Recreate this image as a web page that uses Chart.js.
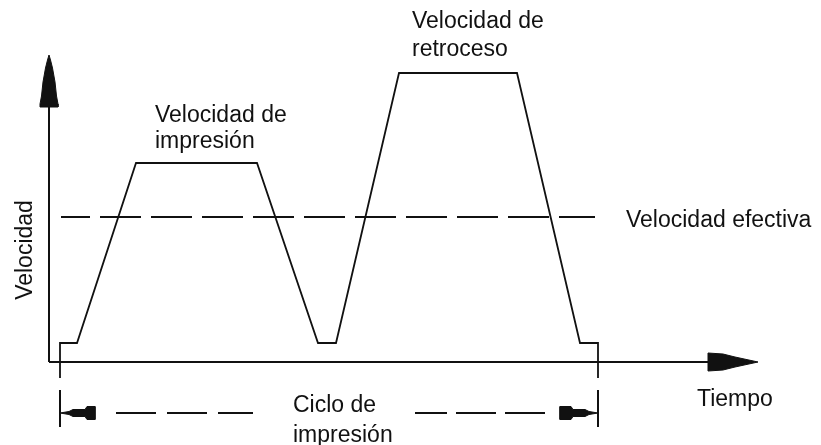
<!DOCTYPE html>
<html lang="es">
<head>
<meta charset="utf-8">
<title>Ciclo de impresión</title>
<script src="https://cdn.jsdelivr.net/npm/chart.js@4.4.1/dist/chart.umd.min.js"></script>
<style>
  html, body { margin: 0; padding: 0; background: #fff; }
  #wrap { width: 821px; height: 445px; }
</style>
</head>
<body>
<div id="wrap"><canvas id="cycleChart" width="821" height="445"></canvas></div>
<script>
// Perfil de velocidad durante un ciclo (tiempo, velocidad)
const profileTime = [1.1, 1.1, 2.8, 8.7, 20.8, 26.9, 28.7, 35.0, 46.8, 53.1, 54.9, 54.9];
const profileSpeed = [-1.6, 1.9, 1.9, 19.9, 19.9, 1.9, 1.9, 28.9, 28.9, 1.9, 1.9, -1.6];

// Velocidad efectiva (linea discontinua)
const effectiveTime = [1.2, 54.6];
const effectiveSpeed = [14.5, 14.5];

// Ejes
const axisYTime = [0, 0];
const axisYSpeed = [0, 25.5];
const axisXTime = [0, 65.9];
const axisXSpeed = [0, 0];

// Puntas de flecha de los ejes
const arrowYTime = [0, 0.15, 0.35, 0.6, 0.75, 0.9, 0.9, -0.9, -0.9, -0.75, -0.6, -0.35, -0.15, 0];
const arrowYSpeed = [30.7, 30.2, 29.4, 28.0, 26.6, 25.8, 25.5, 25.5, 25.8, 26.6, 28.0, 29.4, 30.2, 30.7];
const arrowXTime = [65.9, 67.4, 68.6, 70.9, 68.6, 67.4, 65.9, 65.9];
const arrowXSpeed = [0.9, 0.8, 0.5, 0, -0.5, -0.8, -0.9, 0.9];

// Cota del ciclo de impresion
const cycleStart = 1.1;
const cycleEnd = 54.9;
const cycleLevel = -5.1;
const extensionSpeed = [-2.8, -6.5];
const cycleDashLeftTime = [6.7, 20.4];
const cycleDashRightTime = [36.6, 49.6];
const cycleArrowLeftTime = [1.1, 2.0, 2.4, 3.6, 3.8, 4.6, 4.6, 3.8, 3.6, 2.4, 2.0, 1.1];
const cycleArrowRightTime = [54.9, 54.0, 53.6, 52.4, 52.2, 51.1, 51.1, 52.2, 52.4, 53.6, 54.0, 54.9];
const cycleArrowOffset = [0, 0.15, 0.35, 0.35, 0.65, 0.65, -0.65, -0.65, -0.35, -0.35, -0.15, 0];

// Textos
const labels = [
  { lines: ['Velocidad de', 'impresión'], t: 10.6, v: [24.0, 21.4] },
  { lines: ['Velocidad de', 'retroceso'], t: 36.3, v: [33.4, 30.6] },
  { lines: ['Velocidad efectiva'], t: 57.7, v: [13.5] },
  { lines: ['Tiempo'], t: 64.8, v: [-4.4] },
  { lines: ['Ciclo de', 'impresión'], t: 24.4, v: [-5.0, -8.0] }
];
const axisTitle = { text: 'Velocidad', t: -1.7, v: 11.2 };

const INK = '#111';
const FONT = '23px "Liberation Sans", Arial, sans-serif';

function pts(xs, ys) {
  return xs.map((x, i) => ({ x: x, y: ys[i] }));
}

function line(data, extra) {
  return Object.assign({
    data: data,
    borderColor: INK,
    backgroundColor: INK,
    borderWidth: 2,
    pointRadius: 0,
    showLine: true,
    fill: false,
    tension: 0
  }, extra || {});
}

// Textos dibujados con las escalas del grafico
const textPlugin = {
  id: 'textPlugin',
  afterDatasetsDraw(chart) {
    const ctx = chart.ctx;
    const sx = chart.scales.x;
    const sy = chart.scales.y;
    ctx.save();
    ctx.fillStyle = INK;
    ctx.font = FONT;
    ctx.textAlign = 'left';
    ctx.textBaseline = 'alphabetic';
    labels.forEach(l => {
      l.lines.forEach((s, i) => {
        ctx.fillText(s, sx.getPixelForValue(l.t), sy.getPixelForValue(l.v[i]));
      });
    });
    // titulo vertical del eje Y
    ctx.translate(sx.getPixelForValue(axisTitle.t), sy.getPixelForValue(axisTitle.v));
    ctx.rotate(-Math.PI / 2);
    ctx.textAlign = 'center';
    ctx.fillText(axisTitle.text, 0, 0);
    ctx.restore();
  }
};

const flat = (n, v) => Array(n).fill(v);

const ctx = document.getElementById('cycleChart').getContext('2d');
new Chart(ctx, {
  type: 'scatter',
  data: {
    datasets: [
      line(pts(axisYTime, axisYSpeed)),
      line(pts(axisXTime, axisXSpeed)),
      line(pts(arrowYTime, arrowYSpeed), { borderWidth: 1, fill: 'shape' }),
      line(pts(arrowXTime, arrowXSpeed), { borderWidth: 1, fill: 'shape' }),
      line(pts(profileTime, profileSpeed), { borderWidth: 1.8 }),
      line(pts(effectiveTime, effectiveSpeed), { borderDash: [41, 10], borderDashOffset: 12 }),
      line(pts([cycleStart, cycleStart], extensionSpeed)),
      line(pts([cycleEnd, cycleEnd], extensionSpeed)),
      line(pts(cycleDashLeftTime, flat(2, cycleLevel)), { borderDash: [40, 11] }),
      line(pts(cycleDashRightTime, flat(2, cycleLevel)), { borderDash: [40, 9], borderDashOffset: 8 }),
      line(pts(cycleArrowLeftTime, cycleArrowOffset.map(d => cycleLevel + d)), { borderWidth: 1, fill: 'shape' }),
      line(pts(cycleArrowRightTime, cycleArrowOffset.map(d => cycleLevel + d)), { borderWidth: 1, fill: 'shape' })
    ]
  },
  options: {
    responsive: false,
    animation: false,
    layout: { padding: 0 },
    plugins: {
      legend: { display: false },
      tooltip: { enabled: false }
    },
    scales: {
      x: { type: 'linear', min: -4.9, max: 77.2, display: false },
      y: { type: 'linear', min: -8.3, max: 36.2, display: false }
    }
  },
  plugins: [textPlugin]
});
</script>
</body>
</html>
